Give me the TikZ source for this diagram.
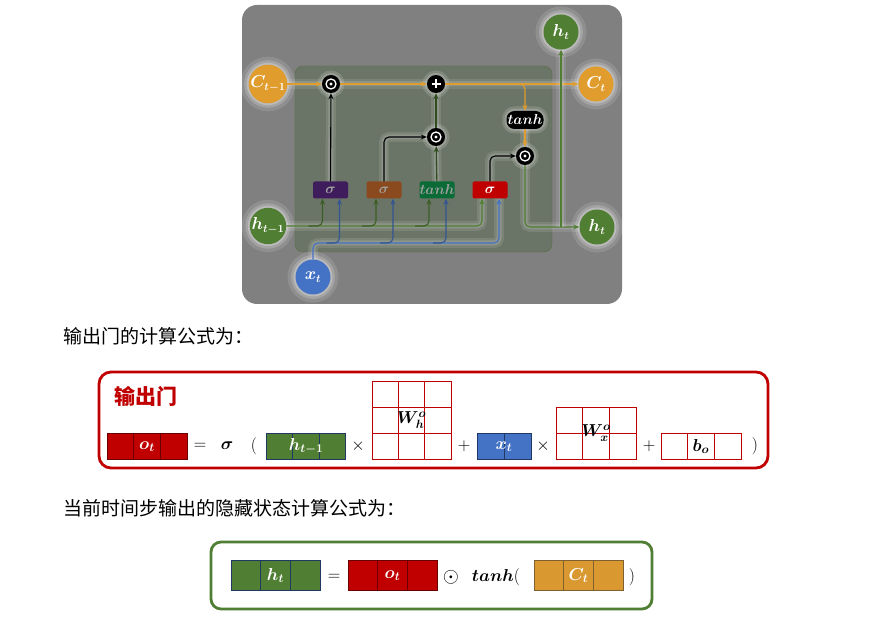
\documentclass[tikz,border=0pt]{standalone}
\usepackage{fontspec}
\usepackage{bm}
\usetikzlibrary{positioning,calc,arrows.meta}
\newfontfamily\cjk{Noto Sans CJK SC}

\definecolor{panelgray}{HTML}{808080}
\definecolor{cellgray}{HTML}{6B7567}
\definecolor{cellrim}{HTML}{55703F}
\definecolor{lstmorange}{HTML}{E09C2C}
\definecolor{lstmgreen}{HTML}{507E32}
\definecolor{lstmblue}{HTML}{4472C4}
\definecolor{lstmred}{HTML}{C00000}
\definecolor{gatepurple}{HTML}{3F1D5C}
\definecolor{gatebrown}{HTML}{8A4A1E}
\definecolor{gatedkgreen}{HTML}{0B6B36}
\definecolor{vecorange}{HTML}{DA9830}
\definecolor{vecrim}{HTML}{7F6030}
\definecolor{vecblue}{HTML}{203864}

\begin{document}
\begin{tikzpicture}[x=1pt, y=-1pt,
        state/.style={circle, minimum size=35pt, inner sep=0pt, text=white, font=\fontsize{16}{18}\selectfont,
            preaction={draw=white, opacity=.12, line width=16pt},
            preaction={draw=white, opacity=.18, line width=9pt},
            preaction={draw=white, opacity=.25, line width=4pt}},
        op/.style={circle, fill=black, minimum size=18pt, inner sep=0pt, text=white,
            preaction={draw=white, opacity=.15, line width=9pt},
            preaction={draw=white, opacity=.2, line width=4pt}},
        dotop/.style={op, path picture={
            \draw[white, line width=1.3pt] (path picture bounding box.center) circle (5pt);
            \fill[white] (path picture bounding box.center) circle (1.6pt);}},
        plusop/.style={op, path picture={
            \draw[white, line width=2pt] ([xshift=-4.5pt]path picture bounding box.center) -- ([xshift=4.5pt]path picture bounding box.center);
            \draw[white, line width=2pt] ([yshift=-4.5pt]path picture bounding box.center) -- ([yshift=4.5pt]path picture bounding box.center);}},
        pill/.style={rectangle, rounded corners=8pt, fill=black, minimum width=37pt, minimum height=18pt, inner sep=0pt,
            text=white, font=\fontsize{14}{16}\selectfont,
            preaction={draw=white, opacity=.15, line width=9pt},
            preaction={draw=white, opacity=.2, line width=4pt}},
        gate/.style={rectangle, rounded corners=2pt, minimum width=35pt, minimum height=17pt, inner sep=0pt,
            font=\fontsize{14}{16}\selectfont},
        wire/.style={line width=1.1pt, rounded corners=5pt},
        halo/.style={preaction={draw=white, opacity=.1, line width=10pt, arrows=-},
            preaction={draw=white, opacity=.15, line width=5pt, arrows=-}},
        tip/.style={-{Stealth[length=6pt, width=5pt]}},
        vecbox/.style={rectangle, minimum height=26pt, inner sep=0pt, line width=.8pt, text=white,
            font=\fontsize{18}{20}\selectfont},
        cols/.style n args={2}{path picture={
            \foreach \f in {#1}
                \draw[#2, line width=.8pt] ($(path picture bounding box.north west)!\f!(path picture bounding box.north east)$)
                    -- ($(path picture bounding box.south west)!\f!(path picture bounding box.south east)$);}},
        rows/.style={postaction={path picture={
            \foreach \f in {#1}
                \draw[lstmred, line width=.9pt] ($(path picture bounding box.north west)!\f!(path picture bounding box.south west)$)
                    -- ($(path picture bounding box.north east)!\f!(path picture bounding box.south east)$);}}},
        matbox/.style={rectangle, draw=lstmred, line width=.9pt, inner sep=0pt, font=\fontsize{17}{19}\selectfont},
        sym/.style={inner sep=0pt, font=\fontsize{17}{19}\selectfont}
    ]
        \useasboundingbox (0,0) rectangle (876,620);

        % LSTM cell
        \fill[panelgray, rounded corners=15pt] (242,5) rectangle (622,304);
        \draw[cellrim, fill=cellgray, rounded corners=8pt] (295,66) rectangle (552,252);

        \node[state, fill=lstmorange] (ctprev) at (268,84) {$\bm{C_{t-1}}$};
        \node[state, fill=lstmgreen] (hprev) at (268,226) {$\bm{h_{t-1}}$};
        \node[state, fill=lstmblue] (xt) at (313,277) {$\bm{x_t}$};
        \node[state, fill=lstmgreen] (htop) at (561,32) {$\bm{h_t}$};
        \node[state, fill=lstmorange] (ct) at (596,84) {$\bm{C_t}$};
        \node[state, fill=lstmgreen] (hout) at (597,227) {$\bm{h_t}$};

        \node[dotop] (mulf) at (331,84) {};
        \node[plusop] (addc) at (436,84) {};
        \node[dotop] (muli) at (436,137) {};
        \node[pill] (tanhc) at (525,120) {$\bm{tanh}$};
        \node[dotop] (mulo) at (525,156) {};

        \node[gate, fill=gatepurple, text=gray!75] (gatef) at (330.5,190) {$\bm{\sigma}$};
        \node[gate, fill=gatebrown, text=gray!75] (gatei) at (384,190) {$\bm{\sigma}$};
        \node[gate, fill=gatedkgreen, text=gray!75] (gatec) at (437,190) {$\bm{tanh}$};
        \node[gate, fill=lstmred, text=white] (gateo) at (490,190) {$\bm{\sigma}$};

        % cell state
        \draw[wire, halo, tip, draw=lstmorange] (ctprev) -- (mulf);
        \draw[wire, halo, tip, draw=lstmorange] (mulf) -- (addc);
        \draw[wire, halo, tip, draw=lstmorange] (addc) -- (ct);
        \draw[wire, tip, draw=lstmorange] (addc.east) -| (tanhc);
        \draw[wire, halo, tip, draw=lstmorange] (tanhc) -- (mulo);

        % gates
        \draw[wire, halo, tip] (gatef) -- (mulf);
        \draw[wire, halo, tip] (gatei) |- (muli);
        \draw[wire, halo, tip, draw=lstmgreen!60!black] (gatec) -- (muli);
        \draw[wire, halo, tip, draw=lstmgreen!60!black] (muli) -- (addc);
        \draw[wire, halo, tip] (gateo) |- (mulo);

        % hidden state out
        \draw[wire, halo, tip, draw=lstmgreen] (mulo) |- (hout);
        \coordinate (hsplit) at (htop |- hout);
        \draw[wire, halo, tip, draw=lstmgreen] (hsplit) -- (htop);

        % inputs
        \draw[wire, halo, tip, draw=lstmgreen] (hprev) -| ([xshift=-8pt]gateo.south);
        \foreach \g in {gatef, gatei, gatec}
            \draw[wire, tip, draw=lstmgreen!75!black] ($(\g.south |- hprev)+(-22,0)$) -| ([xshift=-8pt]\g.south);
        \coordinate (xbus) at (313,243);
        \draw[wire, halo, tip, draw=lstmblue] (xt) -- (xbus) -| ([xshift=9pt]gateo.south);
        \foreach \g in {gatef, gatei, gatec}
            \draw[wire, tip, draw=lstmblue!75!black] ($(\g.south |- xbus)+(-4,0)$) -| ([xshift=9pt]\g.south);

        % output gate formula
        \node[anchor=west, font=\cjk\fontsize{19}{22}\selectfont] (otext) at (60,336) {输出门的计算公式为：};
        \draw[lstmred, line width=2.8pt, rounded corners=12pt] (99,372) rectangle (768,468);
        \node[anchor=west, text=lstmred, font=\cjk\bfseries\fontsize{21}{24}\selectfont] (otitle) at (111,396) {输出门};

        \node[vecbox, fill=lstmred, draw=lstmred!55!black, cols={1/3,2/3}{lstmred!55!black}, minimum width=80pt] (ovec) at (147,446.5) {$\bm{o_t}$};
        \node[sym] (eqa) at (200,446) {$=$};
        \node[sym] (sigma) at (227,446) {$\bm{\sigma}$};
        \node[sym] (lpar) at (254,446) {$($};
        \node[vecbox, fill=lstmgreen, draw=vecblue, cols={1/3,2/3}{vecblue}, minimum width=79pt] (hvec) at (306,446.5) {$\bm{h_{t-1}}$};
        \node[sym] (timesa) at (358,446) {$\times$};
        \node[matbox, cols={1/3,2/3}{lstmred}, rows={1/3,2/3}, minimum width=79pt, minimum height=78pt] (whmat) at (411.5,420) {$\bm{W^{o}_{h}}$};
        \node[sym] (plusa) at (464,446) {$+$};
        \node[vecbox, fill=lstmblue, draw=vecblue, cols={1/2}{vecblue}, minimum width=54pt] (xvec) at (504,446.5) {$\bm{x_t}$};
        \node[sym] (timesb) at (543,446) {$\times$};
        \node[matbox, cols={1/3,2/3}{lstmred}, rows={1/2}, minimum width=80pt, minimum height=52pt] (wxmat) at (596,433) {$\bm{W^{o}_{x}}$};
        \node[sym] (plusb) at (649,446) {$+$};
        \node[vecbox, draw=lstmred, text=black, cols={1/3,2/3}{lstmred}, minimum width=80pt] (bvec) at (701,446.5) {$\bm{b_o}$};
        \node[sym] (rpar) at (755,446) {$)$};

        % hidden state formula
        \node[anchor=west, font=\cjk\fontsize{19}{22}\selectfont] (htext) at (60,508) {当前时间步输出的隐藏状态计算公式为：};
        \draw[lstmgreen, line width=2.8pt, rounded corners=10pt] (211,542) rectangle (652,609);

        \node[vecbox, fill=lstmgreen, draw=vecblue, cols={1/3,2/3}{vecblue}, minimum width=89pt, minimum height=30pt] (htvec) at (275.5,575.5) {$\bm{h_t}$};
        \node[sym] (eqb) at (334,577) {$=$};
        \node[vecbox, fill=lstmred, draw=lstmred!55!black, cols={1/3,2/3}{lstmred!55!black}, minimum width=89pt, minimum height=30pt] (otvec) at (392.5,575.5) {$\bm{o_t}$};
        \node[sym, font=\fontsize{21}{23}\selectfont] (odot) at (451,577) {$\odot$};
        \node[sym, font=\fontsize{19}{21}\selectfont] (tanhtxt) at (496,577) {$\bm{tanh}($};
        \node[vecbox, fill=vecorange, draw=vecrim, cols={1/3,2/3}{vecrim}, minimum width=89pt, minimum height=30pt] (ctvec) at (578.5,575.5) {$\bm{C_t}$};
        \node[sym] (rparb) at (632,577) {$)$};
    \end{tikzpicture}
\end{document}
